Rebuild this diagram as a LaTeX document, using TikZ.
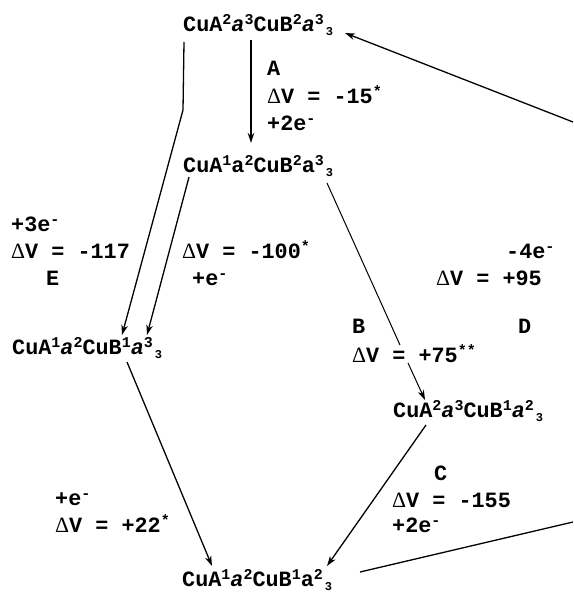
\documentclass[tikz,border=0pt]{standalone}
\usepackage{fontspec}
\setmainfont{Liberation Mono}
\newfontfamily\deltafont{Liberation Serif}
\usetikzlibrary{arrows.meta}
\newcommand\up[1]{\raisebox{7pt}{\fontsize{15}{15}\selectfont #1}}
\newcommand\dn[1]{\hspace{2pt}\raisebox{-4pt}{\fontsize{12}{12}\selectfont #1}}
\newcommand\ia{{\itshape a}}
\newcommand\dV{{\mdseries\deltafont Δ}V}
\tikzset{
  lbl/.style={anchor=base west, inner sep=0pt, font=\fontsize{21.8}{25}\selectfont\bfseries},
  conn/.style={line width=1.3pt, -{Stealth[length=10pt,width=6.5pt,inset=3pt]}},
  thinconn/.style={line width=1pt, -{Stealth[length=10pt,width=6.5pt,inset=3pt]}},
  plain/.style={line width=1.3pt}
}
\begin{document}
\begin{tikzpicture}[x=1pt,y=-1pt]
\useasboundingbox (0,0) rectangle (573,594);
% species
\node[lbl] (top) at (183,32) {CuA\up{2}\ia\up{3}CuB\up{2}\ia\up{3}\dn{3}};
\node[lbl] (sec) at (183,172) {CuA\up{1}a\up{2}CuB\up{2}a\up{3}\dn{3}};
\node[lbl] (left) at (12,354) {CuA\up{1}\ia\up{2}CuB\up{1}\ia\up{3}\dn{3}};
\node[lbl] (right) at (393,417) {CuA\up{2}\ia\up{3}CuB\up{1}\ia\up{2}\dn{3}};
\node[lbl] (bot) at (182,586) {CuA\up{1}\ia\up{2}CuB\up{1}a\up{2}\dn{3}};
% labels
\node[lbl] (lA1) at (267,75) {A};
\node[lbl] (lA2) at (267,103) {\dV{} = -15\up{*}};
\node[lbl] (lA3) at (267,130) {+2e\up{-}};
\node[lbl] (lE1) at (11,231) {+3e\up{-}};
\node[lbl] (lE2) at (11,258) {\dV{} = -117};
\node[lbl] (lE3) at (46,285) {E};
\node[lbl] (lF1) at (182,258) {\dV{} = -100\up{*}};
\node[lbl] (lF2) at (192,285) {+e\up{-}};
\node[lbl] (lD1) at (506,258) {-4e\up{-}};
\node[lbl] (lD2) at (436,285) {\dV{} = +95};
\node[lbl] (lD3) at (518,333) {D};
\node[lbl] (lB1) at (352,333) {B};
\node[lbl] (lB2) at (352,362) {\dV{} = +75\up{**}};
\node[lbl] (lC1) at (434,480) {C};
\node[lbl] (lC2) at (392,507) {\dV{} = -155};
\node[lbl] (lC3) at (392,532) {+2e\up{-}};
\node[lbl] (lG1) at (55,505) {+e\up{-}};
\node[lbl] (lG2) at (55,532) {\dV{} = +22\up{*}};
% connector points
\coordinate (a1) at (251,40);
\coordinate (a2) at (251,143);
\coordinate (e1) at (184,42);
\coordinate (e2) at (183,110);
\coordinate (e3) at (122,335);
\coordinate (f1) at (189,177);
\coordinate (f2) at (147,335);
\coordinate (b1) at (327,183);
\coordinate (b2) at (400,345);
\coordinate (b3) at (408,363);
\coordinate (b4) at (425,400);
\coordinate (c1) at (426,425);
\coordinate (c2) at (327,566);
\coordinate (g1) at (127,362);
\coordinate (g2) at (212,566);
\coordinate (d1) at (360,572);
\coordinate (d2) at (573,522);
\coordinate (d3) at (573,122);
\coordinate (d4) at (345,33);
% connectors
\draw[conn] (a1) -- (a2);
\draw[conn] (e1) -- (e2) -- (e3);
\draw[conn] (f1) -- (f2);
\draw[line width=1pt] (b1) -- (b2);
\draw[thinconn] (b3) -- (b4);
\draw[conn] (c1) -- (c2);
\draw[conn] (g1) -- (g2);
\draw[plain] (d1) -- (d2);
\draw[conn] (d3) -- (d4);
\end{tikzpicture}
\end{document}
